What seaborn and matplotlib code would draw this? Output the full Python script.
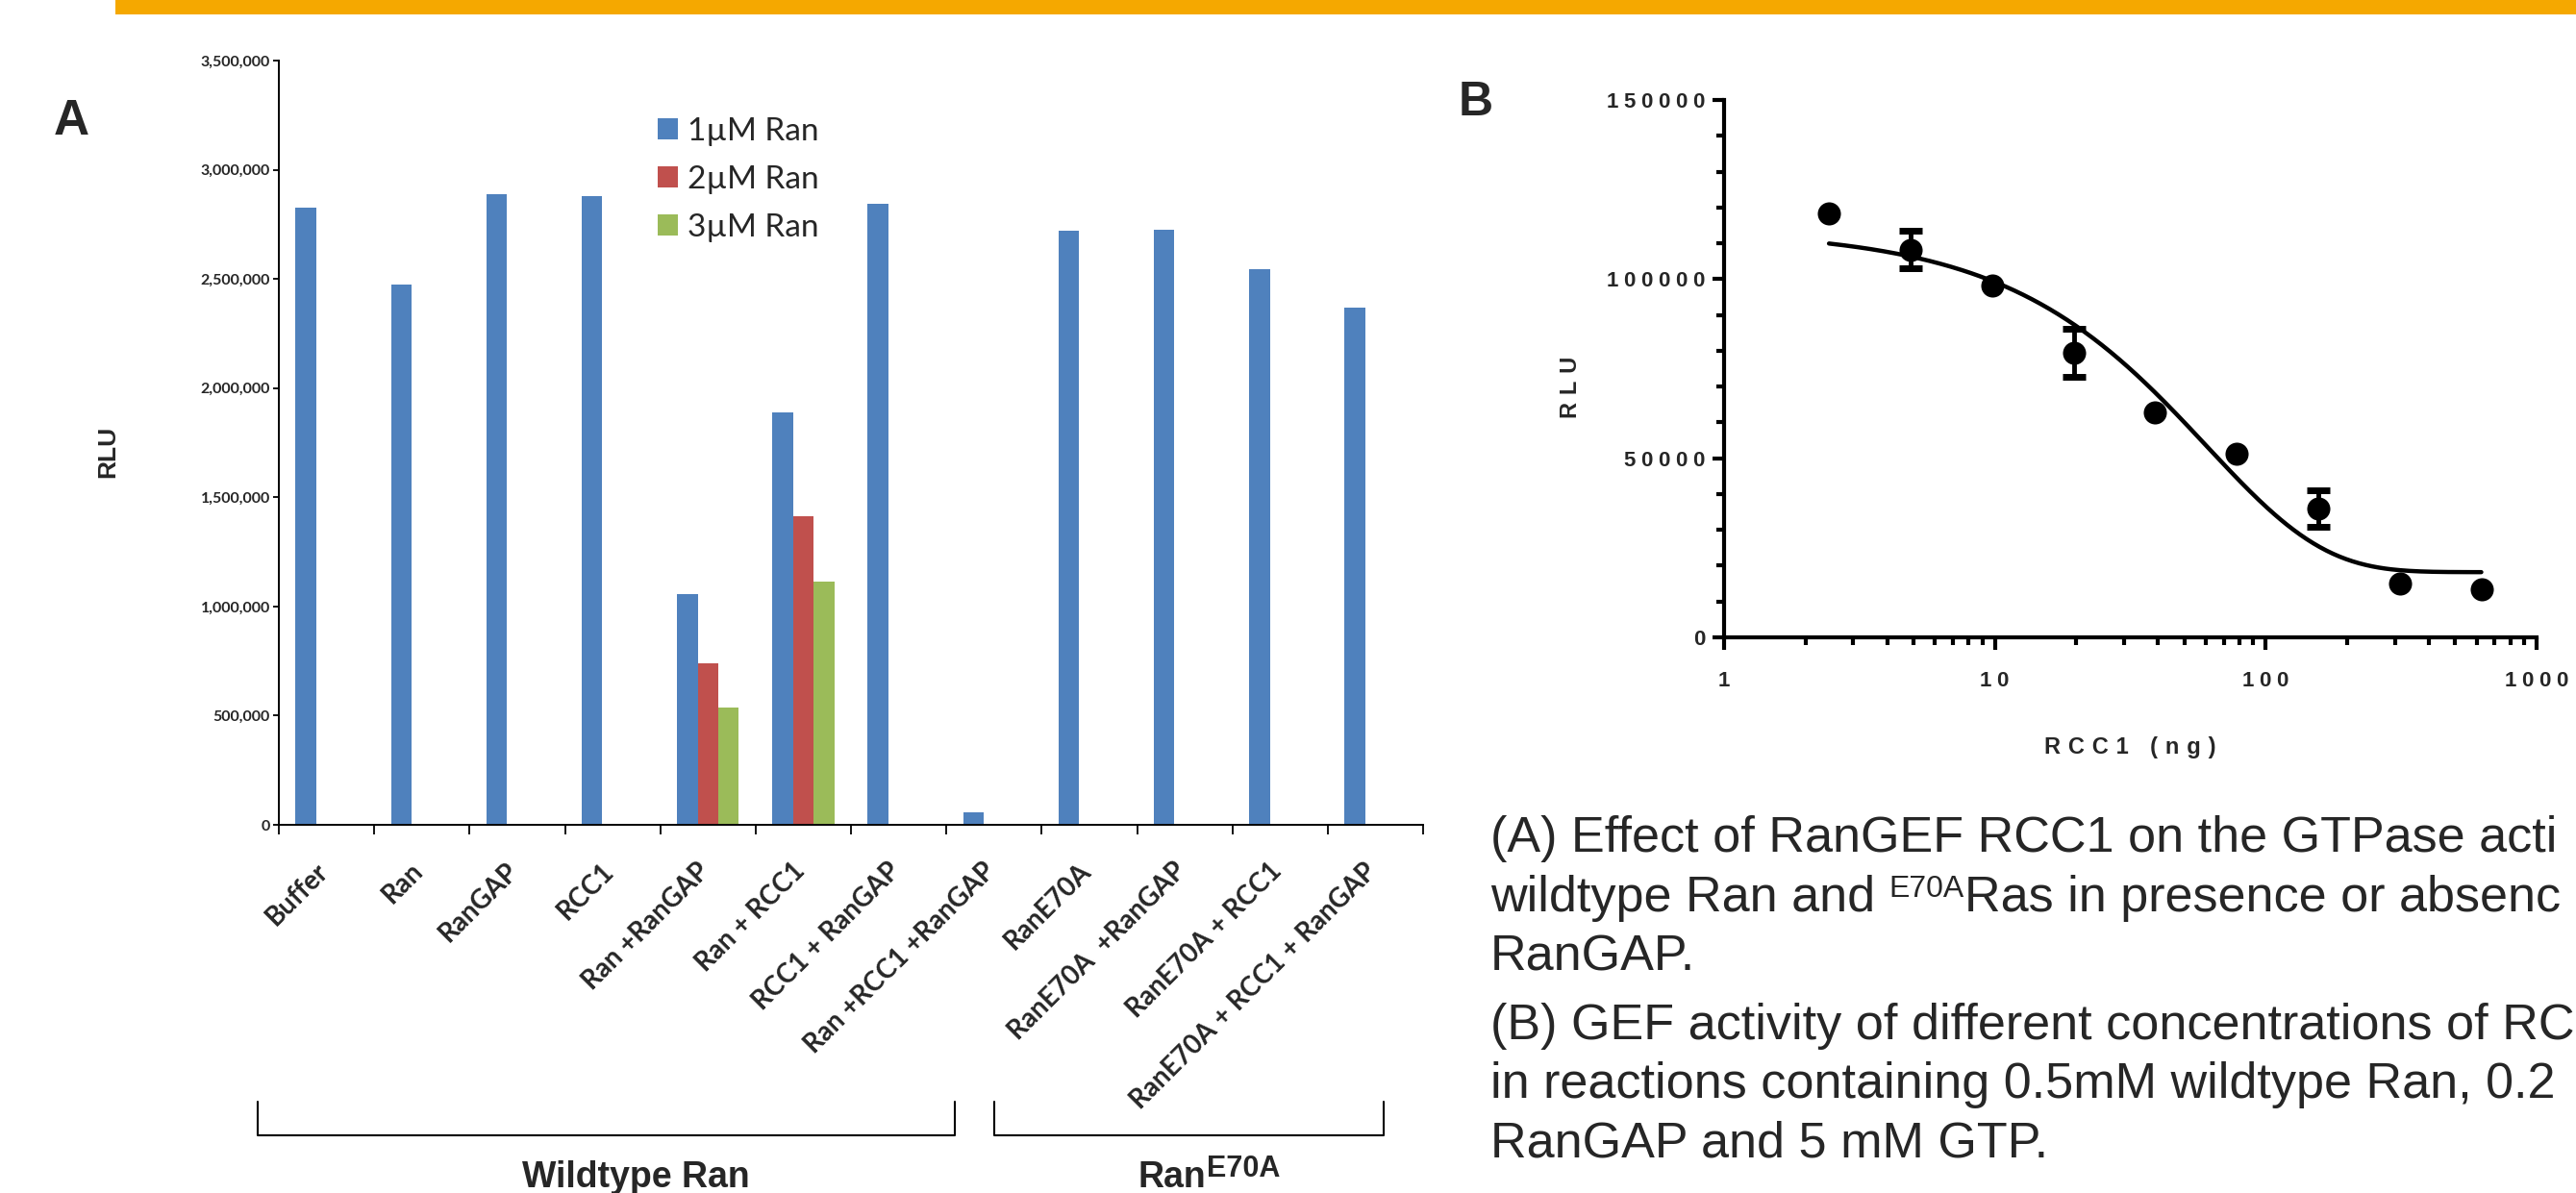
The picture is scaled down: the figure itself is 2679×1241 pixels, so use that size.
import numpy as np
import pandas as pd
import matplotlib
matplotlib.use("Agg")
import matplotlib.pyplot as plt
import seaborn as sns
from matplotlib.ticker import MultipleLocator, LogLocator, FuncFormatter, NullFormatter, FixedLocator
from matplotlib.patches import Rectangle
from matplotlib.lines import Line2D
from matplotlib.transforms import ScaledTranslation

# ---------------- data: panel A ----------------
categories = ["Buffer", "Ran", "RanGAP", "RCC1", "Ran +RanGAP", "Ran + RCC1",
              "RCC1 + RanGAP", "Ran +RCC1 +RanGAP", "RanE70A", "RanE70A  +RanGAP",
              "RanE70A + RCC1", "RanE70A + RCC1 + RanGAP"]
conc_levels = ["1\u00b5M Ran", "2\u00b5M Ran", "3\u00b5M Ran"]
rlu_1uM = [2827000, 2474000, 2889000, 2881000, 1058000, 1889000,
           2845000, 58000, 2720000, 2726000, 2544000, 2367000]
rlu_2uM = [np.nan, np.nan, np.nan, np.nan, 738000, 1415000,
           np.nan, np.nan, np.nan, np.nan, np.nan, np.nan]
rlu_3uM = [np.nan, np.nan, np.nan, np.nan, 537000, 1115000,
           np.nan, np.nan, np.nan, np.nan, np.nan, np.nan]
bar_colors = ["#4F81BD", "#C0504D", "#9BBB59"]
group_labels = ["Wildtype Ran", "Ran"]

# ---------------- data: panel B ----------------
rcc1_ng = [2.44, 4.88, 9.77, 19.53, 39.06, 78.13, 156.25, 312.5, 625.0]
rlu_mean = [118400, 108200, 98100, 79400, 62700, 51300, 36000, 15100, 13500]
rlu_err = [0, 5200, 0, 6800, 0, 0, 5100, 0, 0]
# fitted decay curve parameters (plateau + span * exp(-k x))
fit_plateau = 18200
fit_span = 95500
fit_k = 0.0165

W, H = 2679, 1241
def fx(px):
    return px / W
def fy(py):
    return 1 - py / H

def spaced(s, sep="\u2005"):
    return sep.join(s)

sns.set_style("white")
plt.rcParams["font.family"] = ["Lato", "DejaVu Sans"]

fig = plt.figure(figsize=(W / 100, H / 100), dpi=100)

# orange band at top
fig.add_artist(Rectangle((fx(120), fy(15)), 1.0, 15 / H, transform=fig.transFigure,
                         color="#F5A800", lw=0))

# ---------------- panel A ----------------
rows = []
for c, a, b, d in zip(categories, rlu_1uM, rlu_2uM, rlu_3uM):
    for lev, v in zip(conc_levels, (a, b, d)):
        if not np.isnan(v):
            rows.append({"condition": c, "conc": lev, "rlu": v})
dfA = pd.DataFrame(rows)

axA = fig.add_axes([fx(290), fy(858), (1480 - 290) / W, (858 - 63) / H])
sns.barplot(data=dfA, x="condition", y="rlu", hue="conc", order=categories,
            hue_order=conc_levels, palette=bar_colors, width=0.65, saturation=1,
            errorbar=None, ax=axA, linewidth=0)
axA.set_xlim(-0.5, len(categories) - 0.5)
axA.set_ylim(0, 3500000)
axA.yaxis.set_major_locator(MultipleLocator(500000))
axA.yaxis.set_major_formatter(FuncFormatter(lambda v, p: f"{v:,.0f}"))
for s in ["top", "right"]:
    axA.spines[s].set_visible(False)
for s in ["left", "bottom"]:
    axA.spines[s].set_linewidth(1.4)
    axA.spines[s].set_color("black")
axA.set_xlabel("")
axA.set_ylabel("RLU", fontsize=19, fontweight="bold", family="Liberation Sans")
axA.yaxis.set_label_coords(-0.139, 0.488)
axA.set_xticks(range(len(categories)))
axA.set_xticklabels(categories, rotation=45, ha="right", va="top",
                    rotation_mode="anchor", fontsize=20, fontweight="bold")
axA.tick_params(axis="x", which="major", length=0, pad=25)
axA.xaxis.set_minor_locator(FixedLocator(np.arange(-0.5, len(categories), 1.0)))
axA.tick_params(axis="x", which="minor", length=7, width=1.3, direction="out", color="black")
axA.tick_params(axis="y", which="major", length=4.5, width=1.3, direction="out",
                color="black", pad=2)
for t in axA.get_yticklabels():
    t.set_fontweight("bold")
    t.set_fontsize(11.5)
axA.tick_params(axis="both", which="both", bottom=True, left=True)
off = ScaledTranslation(-12 / 100, 0, fig.dpi_scale_trans)
for lab in axA.get_xticklabels():
    lab.set_transform(lab.get_transform() + off)

handles, labels = axA.get_legend_handles_labels()
axA.legend(handles, labels, loc="upper left", bbox_to_anchor=(0.331, 0.926),
           frameon=False, fontsize=24, handlelength=0.63, handleheight=0.63,
           handletextpad=0.3, labelspacing=0.6, borderpad=0, borderaxespad=0)

# group brackets
for (x0, x1) in [(268, 993), (1034, 1439)]:
    fig.add_artist(Line2D([fx(x0), fx(x0), fx(x1), fx(x1)],
                          [fy(1146), fy(1181), fy(1181), fy(1146)],
                          transform=fig.transFigure, color="black", lw=1.5))

renderer = fig.canvas.get_renderer()

def text_width(s, **kw):
    if s == "":
        return 0.0
    t = fig.text(0, 0, s, **kw)
    w = t.get_window_extent(renderer).width
    t.remove()
    return w

def draw_runs(x_px, base_px, runs):
    x = x_px
    for s, kw, dy in runs:
        fig.text(fx(x), fy(base_px - dy), s, va="baseline", ha="left", **kw)
        core = s.rstrip(" ")
        n_sp = len(s) - len(core)
        sp = text_width("a a", **kw) - text_width("aa", **kw)
        x += text_width(core, **kw) + n_sp * sp

g_big = dict(fontsize=27, fontweight="bold", family="Liberation Sans")
g_sup = dict(fontsize=22, fontweight="bold", family="Liberation Sans")
fig.text(fx(661), fy(1235), group_labels[0], ha="center", va="baseline", **g_big)
draw_runs(1184, 1235, [(group_labels[1], g_big, 0), ("E70A", g_sup, 11)])

# panel letters
fig.text(fx(56), fy(140), "A", ha="left", va="baseline", fontsize=37,
         fontweight="bold", family="Liberation Sans")
fig.text(fx(1517), fy(120), "B", ha="left", va="baseline", fontsize=36,
         fontweight="bold", family="Liberation Sans")

# ---------------- panel B ----------------
axB = fig.add_axes([fx(1793), fy(663), (2638 - 1793) / W, (663 - 104) / H])
x_fit = np.geomspace(rcc1_ng[0], rcc1_ng[-1], 300)
y_fit = fit_plateau + fit_span * np.exp(-fit_k * x_fit)
sns.lineplot(x=x_fit, y=y_fit, color="black", lw=3.2, ax=axB, zorder=2)
err_idx = [i for i, e in enumerate(rlu_err) if e > 0]
axB.errorbar([rcc1_ng[i] for i in err_idx], [rlu_mean[i] for i in err_idx],
             yerr=[rlu_err[i] for i in err_idx], fmt="none", ecolor="black",
             elinewidth=3.5, capsize=8.5, capthick=5, zorder=3)
sns.scatterplot(x=rcc1_ng, y=rlu_mean, color="black", s=300, edgecolor="black",
                linewidth=0, ax=axB, zorder=4)
axB.set_xscale("log")
axB.set_xlim(1, 1000)
axB.set_ylim(0, 150000)
axB.yaxis.set_major_locator(MultipleLocator(50000))
axB.yaxis.set_minor_locator(MultipleLocator(10000))
axB.xaxis.set_major_locator(LogLocator(base=10, numticks=10))
axB.xaxis.set_minor_locator(LogLocator(base=10, subs=np.arange(2, 10), numticks=20))
axB.xaxis.set_minor_formatter(NullFormatter())
axB.xaxis.set_major_formatter(FuncFormatter(lambda v, p: spaced(f"{v:g}")))
axB.yaxis.set_major_formatter(FuncFormatter(lambda v, p: spaced(f"{v:.0f}")))
for s in ["top", "right"]:
    axB.spines[s].set_visible(False)
for s in ["left", "bottom"]:
    axB.spines[s].set_linewidth(3)
    axB.spines[s].set_color("black")
axB.tick_params(axis="both", which="major", length=9, width=3, direction="out",
                color="black", labelsize=16)
axB.tick_params(axis="both", which="minor", length=5.5, width=3, direction="out",
                color="black")
axB.tick_params(axis="x", which="major", pad=16)
axB.tick_params(axis="y", which="major", pad=5)
axB.tick_params(axis="both", which="both", bottom=True, left=True)
for t in axB.get_xticklabels() + axB.get_yticklabels():
    t.set_fontweight("bold")
    t.set_family(["Liberation Sans", "DejaVu Sans"])
lab_kw = dict(fontsize=17, fontweight="bold", family=["Liberation Sans", "DejaVu Sans"])
axB.set_xlabel(spaced("RCC1 (ng)", "\u2004"), **lab_kw)
axB.set_ylabel(spaced("RLU", "\u2004"), **lab_kw)
axB.xaxis.set_label_coords(0.5, -0.185)
axB.yaxis.set_label_coords(-0.175, 0.466)

# ---------------- caption ----------------
cap = dict(fontsize=37.5, family="Liberation Sans")
cap_sup = dict(fontsize=23, family="Liberation Sans")
draw_runs(1550, 886, [("(A) Effect of RanGEF RCC1 on the GTPase acti", cap, 0)])
draw_runs(1550, 948, [("wildtype Ran and ", cap, 0), ("E70A", cap_sup, 15),
                      ("Ras in presence or absenc", cap, 0)])
draw_runs(1550, 1009, [("RanGAP.", cap, 0)])
draw_runs(1550, 1081, [("(B) GEF activity of different concentrations of RC", cap, 0)])
draw_runs(1550, 1142, [("in reactions containing 0.5mM wildtype Ran, 0.2", cap, 0)])
draw_runs(1550, 1203, [("RanGAP and 5 mM GTP.", cap, 0)])

fig.savefig("out.png", dpi=100)
